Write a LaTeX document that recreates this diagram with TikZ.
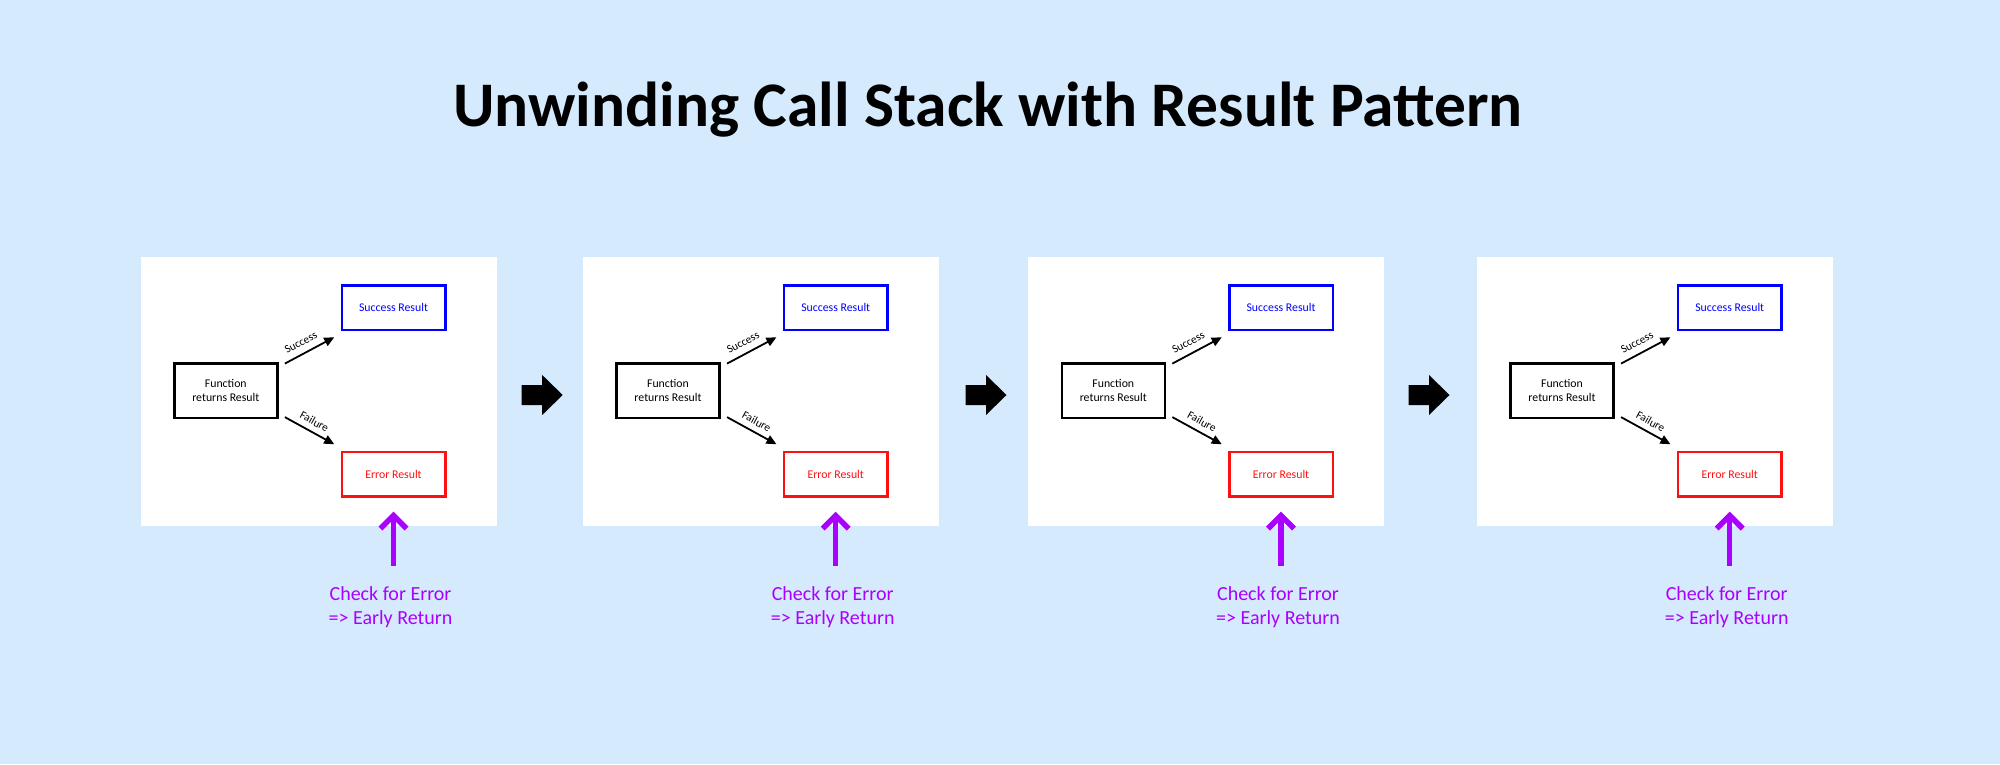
\documentclass[tikz,border=0pt]{standalone}
\usepackage{fontspec}
\setmainfont{Carlito}
\usetikzlibrary{arrows.meta,calc}
\definecolor{bg}{HTML}{D5EBFD}
\definecolor{pur}{HTML}{AA00FF}
\definecolor{myblue}{HTML}{0000FF}
\definecolor{myred}{HTML}{FF1010}
\begin{document}
\begin{tikzpicture}[x=1pt,y=-1pt,
  panel/.style={fill=white, draw=none, minimum width=356pt, minimum height=269pt, inner sep=0pt, anchor=north west},
  fbox/.style={draw=black, line width=2.5pt, minimum width=103pt, minimum height=54.5pt, inner sep=0pt, align=center, font=\fontsize{11.8}{13.7}\selectfont},
  sbox/.style={draw=myblue, text=myblue, line width=2.5pt, minimum width=103.5pt, minimum height=44.5pt, inner sep=0pt, font=\fontsize{11.8}{13.7}\selectfont},
  ebox/.style={draw=myred, text=myred, line width=2.5pt, minimum width=103.5pt, minimum height=44.5pt, inner sep=0pt, font=\fontsize{11.8}{13.7}\selectfont},
  conn/.style={line width=1.8pt, -{Triangle[length=10pt,width=9pt]}},
  lbl/.style={font=\fontsize{11.3}{12}\selectfont, inner sep=0pt, sloped},
  chk/.style={line width=5.5pt, pur, -{Straight Barb[length=13pt,width=26pt]}},
  chktext/.style={text=pur, align=center, inner sep=0pt, font=\fontsize{20}{23.5}\selectfont, anchor=base},
  blockarrow/.style={fill=black}
]
\useasboundingbox (0,0) rectangle (2000,764);
\fill[bg] (0,0) rectangle (2000,764);

\node[font=\fontsize{63.5}{72}\selectfont\bfseries, anchor=base, inner sep=0pt] (title) at (988,126) {Unwinding Call Stack with Result Pattern};

\foreach \i/\px in {1/140.5, 2/582.7, 3/1028, 4/1476.7} {
  \node[panel] (p\i) at (\px,256.7) {};
  \node[fbox] (f\i) at (\px+85.3,390.7) {Function\\returns Result};
  \node[sbox] (s\i) at (\px+253,307.5) {Success Result};
  \node[ebox] (e\i) at (\px+253,474) {Error Result};
  \draw[conn] ($(f\i.north east)+(6.3,1.4)$) -- ($(s\i.south west)+(-6.25,6.25)$)
     node[lbl, pos=0.43, above=6.5pt] {Success};
  \draw[conn] ($(f\i.south east)+(6.3,-2.1)$) -- ($(e\i.north west)+(-6.25,-6.25)$)
     node[lbl, pos=0.5, above=5.5pt] {Failure};
  \coordinate (cb\i) at ($(e\i.center)+(0,92)$);
  \coordinate (ct\i) at ($(e\i.center)+(0,37.7)$);
  \draw[chk] (cb\i) -- (ct\i);
  \node[chktext] (t\i) at ($(e\i.center)+(-3,150)$) {Check for Error\\=> Early Return};
}

\foreach \j/\cx in {1/542.2, 2/986, 3/1429} {
  \fill[blockarrow] (\cx-20.5,385) -- (\cx,385) -- (\cx,375) -- (\cx+20.5,395) -- (\cx,415) -- (\cx,405) -- (\cx-20.5,405) -- cycle;
}
\end{tikzpicture}
\end{document}
